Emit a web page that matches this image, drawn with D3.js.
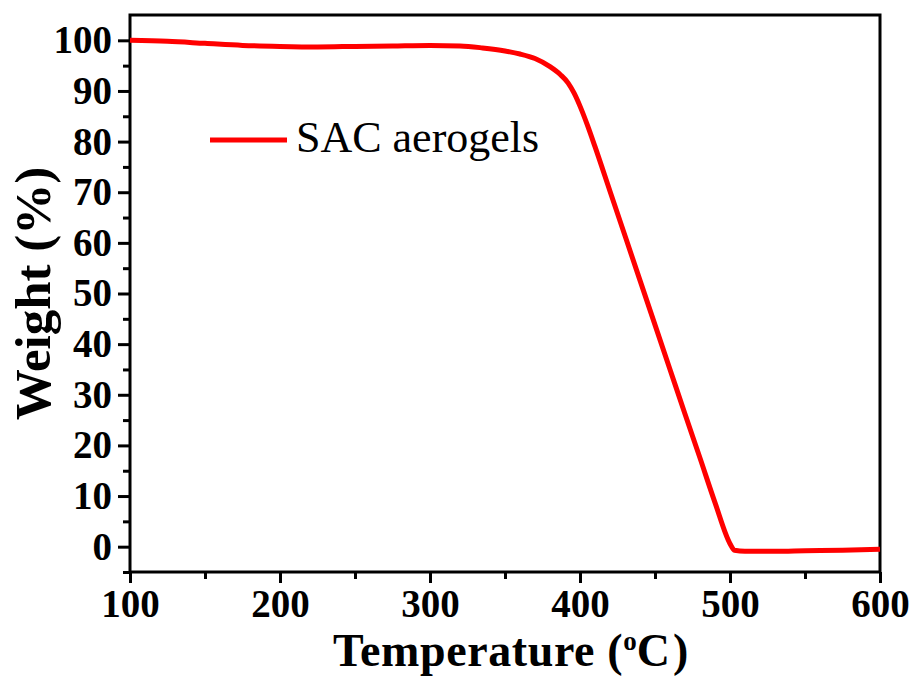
<!DOCTYPE html>
<html lang="en">
<head>
    <meta charset="UTF-8">
    <title>TGA - SAC aerogels</title>
    <script src="https://d3js.org/d3.v7.min.js"></script>
    <style>
        body { margin: 0; background: #fff; }
        svg { display: block; }
        .tick text { font-family: "Liberation Serif", "Times New Roman", serif; font-weight: bold; }
        .axis-title { font-family: "Liberation Serif", "Times New Roman", serif; font-weight: bold; }
    </style>
</head>
<body>

<svg width="916" height="677"></svg>

<script>
    const width = 916;
    const height = 677;

    // temperature (°C) and weight (%)
    const temps   = [100, 125, 150, 175, 200, 225, 250, 275, 300, 320, 335, 350, 360, 370, 380, 387, 392, 396, 400, 405, 410, 420, 430, 440, 450, 460, 470, 480, 490, 500, 503, 510, 530, 550, 575, 600];
    const weights = [100, 99.8, 99.4, 99.0, 98.8, 98.7, 98.8, 98.9, 99.0, 98.9, 98.5, 97.9, 97.3, 96.4, 94.8, 93.2, 91.6, 89.6, 87.0, 83.2, 79.0, 70.2, 61.4, 52.6, 43.8, 35.0, 26.2, 17.5, 8.7, 0.6, -0.7, -0.9, -0.9, -0.8, -0.7, -0.5];

    const xTicks = [100, 200, 300, 400, 500, 600];
    const yTicks = [0, 10, 20, 30, 40, 50, 60, 70, 80, 90, 100];
    const seriesName = "SAC aerogels";

    const margin = { left: 130, top: 15, right: 36, bottom: 105 };

    const x = d3.scaleLinear().domain([100, 600]).range([margin.left, width - margin.right]);
    const y = d3.scaleLinear().domain([-5, 105]).range([height - margin.bottom, margin.top]);

    const svg = d3.select("svg");

    // minor ticks first (no labels)
    svg.append("g")
        .attr("transform", `translate(0,${y(-5)})`)
        .call(d3.axisBottom(x).tickValues(d3.range(150, 600, 100)).tickSize(7).tickFormat(""))
        .call(g => g.select(".domain").remove())
        .call(g => g.selectAll("line").attr("stroke-width", 3));

    svg.append("g")
        .attr("transform", `translate(${x(100)},0)`)
        .call(d3.axisLeft(y).tickValues(d3.range(-5, 105, 10)).tickSize(7).tickFormat(""))
        .call(g => g.select(".domain").remove())
        .call(g => g.selectAll("line").attr("stroke-width", 3));

    // major ticks with labels
    svg.append("g")
        .attr("transform", `translate(0,${y(-5)})`)
        .call(d3.axisBottom(x).tickValues(xTicks).tickSize(11).tickPadding(6).tickFormat(d3.format("d")))
        .call(g => g.select(".domain").remove())
        .call(g => g.selectAll("line").attr("stroke-width", 3))
        .call(g => g.selectAll("text").attr("font-size", 39).attr("fill", "#000"));

    svg.append("g")
        .attr("transform", `translate(${x(100)},0)`)
        .call(d3.axisLeft(y).tickValues(yTicks).tickSize(12).tickPadding(6).tickFormat(d3.format("d")))
        .call(g => g.select(".domain").remove())
        .call(g => g.selectAll("line").attr("stroke-width", 3))
        .call(g => g.selectAll("text").attr("font-size", 39).attr("fill", "#000"));

    // frame
    svg.append("rect")
        .attr("x", x(100))
        .attr("y", y(105))
        .attr("width", x(600) - x(100))
        .attr("height", y(-5) - y(105))
        .attr("fill", "none")
        .attr("stroke", "#000")
        .attr("stroke-width", 3);

    // curve
    const line = d3.line()
        .x((d, i) => x(temps[i]))
        .y(d => y(d))
        .curve(d3.curveMonotoneX);

    svg.append("path")
        .datum(weights)
        .attr("d", line)
        .attr("fill", "none")
        .attr("stroke", "#ff0000")
        .attr("stroke-width", 5)
        .attr("stroke-linejoin", "round");

    // legend
    svg.append("line")
        .attr("x1", 210).attr("x2", 287)
        .attr("y1", 140).attr("y2", 140)
        .attr("stroke", "#ff0000")
        .attr("stroke-width", 5);

    svg.append("text")
        .attr("x", 296)
        .attr("y", 152)
        .attr("font-family", "'Liberation Serif', 'Times New Roman', serif")
        .attr("font-size", 44)
        .text(seriesName);

    // axis titles
    const xt = svg.append("text")
        .attr("class", "axis-title")
        .attr("x", 333)
        .attr("y", 666)
        .attr("font-size", 46);
    xt.append("tspan").attr("letter-spacing", 0.6).text("Temperature (");
    xt.append("tspan").attr("font-size", 27).attr("dy", -16).text("o");
    xt.append("tspan").attr("dy", 16).text("C");
    xt.append("tspan").attr("dx", 3).text(")");

    svg.append("text")
        .attr("class", "axis-title")
        .attr("transform", `translate(50,${(y(-5) + y(105)) / 2}) rotate(-90)`)
        .attr("text-anchor", "middle")
        .attr("font-size", 51)
        .text("Weight (%)");
</script>

</body>
</html>
